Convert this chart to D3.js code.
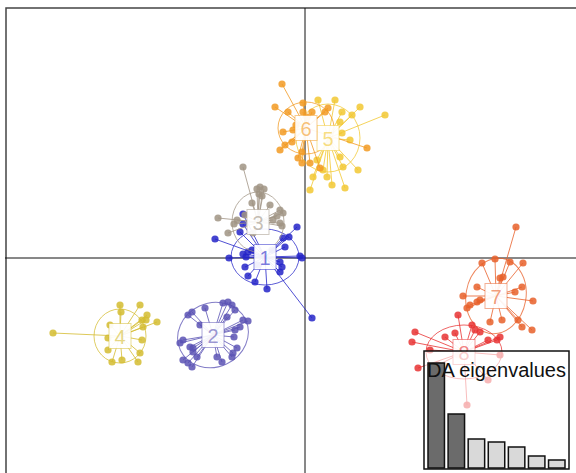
<!DOCTYPE html>
<html><head><meta charset="utf-8">
<script src="https://cdn.jsdelivr.net/npm/d3@7"></script>
<style>html,body{margin:0;padding:0;background:#fff;}svg{display:block;}</style>
</head><body>
<svg id="chart" width="576" height="473"></svg>
<script>
// ---- data (LD1, LD2) ----
const groupNames = ["1","2","3","4","5","6","7","8"];
const groupColors = ["#2424c8","#5a52b4","#a09484","#d4bc30","#f2c832","#f29a22","#e8602a","#e83232"];
const g1 = [[-3.1,2.2],[-3.1,1.7],[-4.5,0.95],[-3.25,1.3],[-3.8,0],[-3.1,0.2],[-2.95,0.05],[-2.85,0.3],[-2.65,0.4],[-3.0,-0.45],[-2.85,-0.9],[-2.5,-1.2],[-1.9,-1.55],[-1.25,-0.7],[-1.15,-0.45],[-1.25,-0.2],[-0.8,1.05],[-0.4,1.55],[-1.0,0.55],[-1.1,1.0],[-0.25,0.1],[-0.15,0],[0.35,-3.0],[-2.35,-0.35],[-1.65,0.4]];
const g2 = [[-5.85,-2.85],[-5.65,-2.7],[-5.0,-2.5],[-4.1,-2.25],[-3.85,-2.2],[-3.65,-2.35],[-3.5,-2.6],[-3.1,-3.1],[-2.85,-3.15],[-3.25,-3.45],[-3.5,-3.6],[-3.55,-3.95],[-3.4,-4.5],[-3.6,-4.75],[-3.65,-4.95],[-4.15,-5.2],[-4.4,-4.95],[-6.1,-4.1],[-6.25,-4.25],[-5.75,-4.45],[-5.6,-4.5],[-5.6,-4.7],[-5.4,-4.95],[-6.1,-5.1],[-5.85,-5.25],[-5.65,-5.45],[-3.9,-2.95],[-5.25,-3.35]];
const g3 = [[-3.1,4.55],[-2.4,3.45],[-2.25,3.55],[-2.05,3.45],[-2.3,3.2],[-2.15,3.1],[-2.65,2.75],[-1.25,2.4],[-1.1,2.25],[-1.4,2.1],[-4.35,2.0],[-3.55,1.7],[-3.85,1.25],[-1.25,1.75],[-1.15,1.6],[-1.6,1.9],[-3.4,1.9],[-2.6,1.25],[-1.75,2.65],[-3.0,2.15]];
const g4 = [[-12.6,-3.75],[-9.25,-2.35],[-9.2,-2.7],[-8.25,-2.35],[-7.9,-2.85],[-7.95,-3.1],[-8.15,-3.1],[-7.4,-3.2],[-8.1,-3.45],[-9.75,-3.35],[-9.85,-4.0],[-8.15,-4.1],[-9.85,-4.6],[-8.25,-4.75],[-9.65,-5.2],[-9.15,-5.1],[-8.35,-5.2]];
const g5 = [[2.75,7.55],[1.85,7.3],[1.75,6.8],[1.85,6.25],[2.35,7.15],[1.75,5.05],[1.9,4.55],[0.9,4.4],[0.6,4.9],[2.65,4.4],[0.4,4.05],[1.1,4.05],[2.0,3.5],[0.25,3.4],[1.35,3.65],[4.0,7.15],[0.65,7.9],[1.5,7.9],[2.25,5.9]];
const g6 = [[-1.15,8.7],[-1.5,7.55],[-0.85,7.3],[-0.1,7.75],[-0.1,7.3],[0.35,7.3],[0.1,7.05],[-1.1,6.3],[-0.6,6.4],[-0.65,5.8],[-1.0,5.65],[-1.25,5.4],[-0.15,5.3],[-0.35,5.0],[-0.15,4.75],[0.25,4.75],[0.75,4.5],[1.0,7.3],[1.15,7.5],[3.1,5.5],[-0.45,6.65]];
const g7 = [[10.55,1.55],[8.85,-0.25],[9.5,-0.05],[10.25,-0.2],[10.9,-0.25],[9.75,-1.0],[9.9,-0.95],[8.6,-1.45],[10.85,-1.45],[10.5,-1.7],[7.9,-1.9],[11.4,-2.15],[8.25,-2.35],[8.6,-2.2],[8.75,-2.1],[8.1,-2.5],[9.85,-3.1],[10.65,-3.1],[10.85,-3.45],[11.35,-3.6],[9.25,-3.2]];
const g8 = [[5.5,-3.7],[5.35,-4.2],[5.65,-5.5],[7.65,-2.85],[7.0,-3.95],[7.5,-3.75],[8.35,-3.35],[8.5,-3.6],[8.75,-3.7],[9.15,-4.1],[9.6,-4.1],[9.75,-3.95],[7.65,-4.85],[9.75,-4.85],[9.15,-6.1],[8.1,-7.35],[6.65,-5.35],[6.25,-4.6]];
const groupPoints = [g1,g2,g3,g4,g5,g6,g7,g8];
const centroids = [[-2.0,0.05],[-4.6,-3.85],[-2.35,1.8],[-9.25,-3.9],[1.15,6.0],[0.05,6.5],[9.55,-1.9],[7.95,-4.7]];
// ellipse radii (LD units) and rotation (degrees)
const ellipseRx = [1.7,1.8,1.3,1.3,1.6,1.4,1.5,1.9];
const ellipseRy = [1.4,1.6,1.5,1.35,1.7,1.3,1.9,1.35];
const ellipseAngle = [0,25,0,0,0,0,-10,0];
const eigenValues = [105,54,29,26,21,12,8];
const eigenRetained = 2;

// ---- scales ----
const svg = d3.select("#chart");
const x = d3.scaleLinear().domain([-15,15]).range([5,605]);
const y = d3.scaleLinear().domain([-15,12.5]).range([558,8]);

// frame
svg.append("rect").attr("x",x(-15)+1).attr("y",y(12.5)).attr("width",x(15)-x(-15)).attr("height",y(-15)-y(12.5))
  .attr("fill","none").attr("stroke","#444").attr("stroke-width",1.5);
// axes through origin
svg.append("line").attr("x1",x(-15)).attr("x2",x(15)).attr("y1",y(0)).attr("y2",y(0)).attr("stroke","#111").attr("stroke-width",1);
svg.append("line").attr("x1",x(0)).attr("x2",x(0)).attr("y1",y(12.5)).attr("y2",y(-15)).attr("stroke","#111").attr("stroke-width",1);

const layer = svg.append("g");
groupPoints.forEach((pts,i)=>{
  const col = groupColors[i];
  const c = centroids[i];
  const g = layer.append("g");
  const sx = x(1)-x(0), sy = y(0)-y(1);
  g.append("ellipse").attr("cx",x(c[0])).attr("cy",y(c[1]))
    .attr("rx",ellipseRx[i]*sx).attr("ry",ellipseRy[i]*sy)
    .attr("transform",`rotate(${-ellipseAngle[i]},${x(c[0])},${y(c[1])})`)
    .attr("fill","none").attr("stroke",col).attr("stroke-opacity",0.75).attr("stroke-width",1);
  g.selectAll("line").data(pts).join("line")
    .attr("x1",x(c[0])).attr("y1",y(c[1]))
    .attr("x2",d=>x(d[0])).attr("y2",d=>y(d[1]))
    .attr("stroke",col).attr("stroke-opacity",0.8).attr("stroke-width",1);
  g.selectAll("circle").data(pts).join("circle")
    .attr("cx",d=>x(d[0])).attr("cy",d=>y(d[1])).attr("r",3.6)
    .attr("fill",col).attr("fill-opacity",0.85);
});

// labels
groupNames.forEach((n,i)=>{
  const c = centroids[i], col = groupColors[i];
  const cx = x(c[0]), cy = y(c[1]);
  const w = 22, h = 25;
  svg.append("rect").attr("x",cx-w/2).attr("y",cy-h/2).attr("width",w).attr("height",h)
    .attr("fill","#fff").attr("fill-opacity",0.92).attr("stroke",col).attr("stroke-opacity",0.5).attr("stroke-width",1);
  svg.append("text").attr("x",cx).attr("y",cy+7.5).attr("text-anchor","middle")
    .attr("font-family","Liberation Sans, Arial, sans-serif").attr("font-size",20)
    .attr("fill",col).attr("fill-opacity",0.6).text(n);
});

// inset eigenvalues
const ix0=424, iy0=351, iw=145, ih=118;
const inset = svg.append("g");
inset.append("rect").attr("x",ix0).attr("y",iy0).attr("width",iw).attr("height",ih)
  .attr("fill","#fff").attr("fill-opacity",0.6).attr("stroke","#111").attr("stroke-width",1.5);
const bx = d3.scaleBand().domain(d3.range(eigenValues.length)).range([ix0+3,ix0+iw-3]).paddingInner(0.18).paddingOuter(0.05);
const by = d3.scaleLinear().domain([0,d3.max(eigenValues)]).range([468,363]);
inset.selectAll(".bar").data(eigenValues).join("rect").attr("class","bar")
  .attr("x",(d,i)=>bx(i)).attr("y",d=>by(d)).attr("width",bx.bandwidth()).attr("height",d=>by(0)-by(d))
  .attr("fill",(d,i)=>i<eigenRetained?"#6b6b6b":"#d9d9d9").attr("stroke","#111").attr("stroke-width",1.5);
inset.append("text").attr("x",ix0+iw/2).attr("y",377).attr("text-anchor","middle")
  .attr("font-family","Liberation Sans, Arial, sans-serif").attr("font-size",20).attr("fill","#111").text("DA eigenvalues");
</script>
</body></html>
